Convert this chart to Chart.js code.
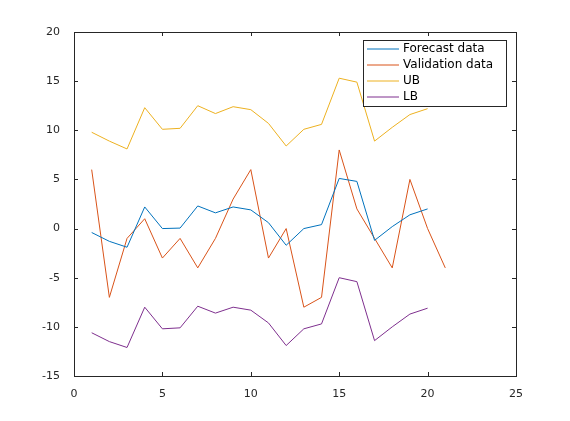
<!DOCTYPE html>
<html><head><meta charset="utf-8">
<script src="https://cdn.jsdelivr.net/npm/chart.js@4"></script>
<style>body{margin:0;background:#fff}</style></head>
<body><canvas id="c" width="570" height="421"></canvas>
<script>
const forecast=[-0.4,-1.3,-1.9,2.2,0,0.05,2.3,1.6,2.2,1.9,0.6,-1.7,0,0.4,5.1,4.8,-1.2,0.2,1.4,2.0];
const validation=[6,-7,-1,1,-3,-1,-4,-1,3,6,-3,0,-8,-7,8,2,-1,-4,5,0,-4];
const ub=[9.8,8.9,8.1,12.3,10.1,10.2,12.5,11.7,12.4,12.1,10.7,8.4,10.1,10.6,15.3,14.9,8.9,10.3,11.6,12.2];
const lb=[-10.6,-11.5,-12.1,-8,-10.2,-10.1,-7.9,-8.6,-8,-8.3,-9.6,-11.9,-10.2,-9.7,-5,-5.4,-11.4,-10,-8.7,-8.1];
const labels=['Forecast data','Validation data','UB','LB'];
const colors=['#0072BD','#D95319','#EDB120','#7E2F8E'];
const pts=a=>a.map((v,i)=>({x:i+1,y:v}));
const series=[forecast,validation,ub,lb];
const frame={id:'frame',afterDraw(ch){
  const c=ch.ctx,a=ch.chartArea;c.save();c.strokeStyle='#262626';c.lineWidth=1;
  c.strokeRect(a.left+0.5,a.top+0.5,a.right-a.left,a.bottom-a.top);
  const xs=ch.scales.x,ys=ch.scales.y;
  xs.ticks.forEach(t=>{const p=Math.round(xs.getPixelForValue(t.value))+0.5;c.beginPath();c.moveTo(p,a.bottom);c.lineTo(p,a.bottom-4);c.moveTo(p,a.top);c.lineTo(p,a.top+4);c.stroke();});
  ys.ticks.forEach(t=>{const p=Math.round(ys.getPixelForValue(t.value))+0.5;c.beginPath();c.moveTo(a.left,p);c.lineTo(a.left+4,p);c.moveTo(a.right,p);c.lineTo(a.right-4,p);c.stroke();});
  const lx=363,ly=40,lw=143,lh=66;
  c.fillStyle='#fff';c.fillRect(lx,ly,lw,lh);c.strokeRect(lx+0.5,ly+0.5,lw,lh);
  c.font='12px "DejaVu Sans"';c.textBaseline='middle';
  ch.data.datasets.forEach((d,i)=>{const y=ly+9+i*16;c.strokeStyle=d.borderColor;c.beginPath();c.moveTo(lx+4,y);c.lineTo(lx+36,y);c.stroke();c.fillStyle='#000';c.fillText(d.label,lx+40,y);});
  c.restore();}};
new Chart(document.getElementById('c'),{type:'line',
 data:{datasets:series.map((s,i)=>({label:labels[i],data:pts(s),borderColor:colors[i],borderWidth:1,pointRadius:0,tension:0,fill:false}))},
 options:{responsive:false,animation:false,layout:{padding:{left:0,right:54,top:32,bottom:0}},
  plugins:{legend:{display:false},tooltip:{enabled:false}},
  scales:{
   x:{type:'linear',min:0,max:25,grid:{display:false},border:{display:false},ticks:{stepSize:5,color:'#262626',font:{size:11,family:'DejaVu Sans'},padding:4},afterFit(s){s.height=45;}},
   y:{min:-15,max:20,grid:{display:false},border:{display:false},ticks:{stepSize:5,color:'#262626',font:{size:11,family:'DejaVu Sans'},padding:6},afterFit(s){s.width=74;}}
  }},plugins:[frame]});
</script></body></html>
